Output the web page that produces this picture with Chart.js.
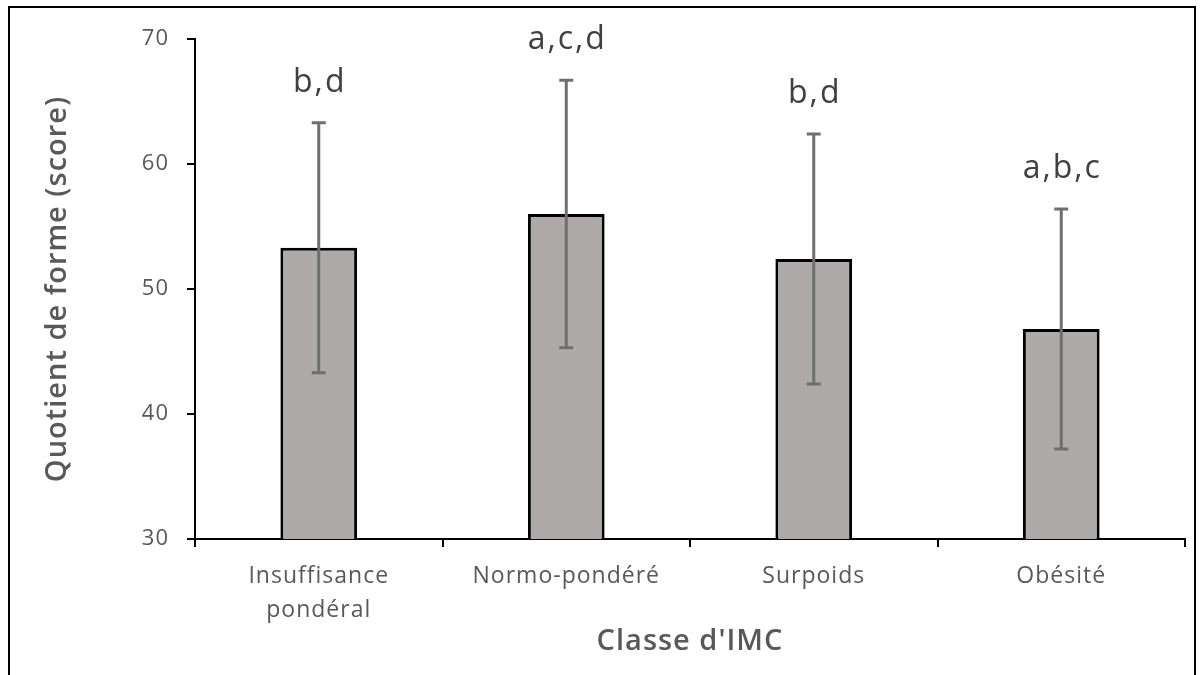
<!DOCTYPE html>
<html>
<head>
<meta charset="utf-8">
<script src="https://cdn.jsdelivr.net/npm/chart.js@4"></script>
<style>
  html, body { margin: 0; padding: 0; background: #fff; }
  #wrap { position: relative; width: 1203px; height: 675px; overflow: hidden; }
  #frame { position: absolute; left: 8px; top: 6px; width: 1184px; height: 700px; border: 2px solid #000; }
  canvas { position: absolute; left: 0; top: 0; }
</style>
</head>
<body>
<div id="wrap">
  <div id="frame"></div>
  <canvas id="myChart" width="1203" height="675"></canvas>
</div>
<script>
  /* ---------------------------------------------------
    data
  ----------------------------------------------------- */
  const categories = [["Insuffisance", "pondéral"], "Normo-pondéré", "Surpoids", "Obésité"];
  const meanScore = [53.3, 56.0, 52.4, 46.8];
  const sdScore = [10.0, 10.7, 10.0, 9.6];
  const letters = ["b,d", "a,c,d", "b,d", "a,b,c"];
  const yTicks = [30, 40, 50, 60, 70];

  /* ---------------------------------------------------
    a bit wider text spacing (like the original office font)
  ----------------------------------------------------- */
  const spacing = {
    id: "spacing",
    beforeDraw(chart) { chart.ctx.letterSpacing = "1px"; }
  };

  /* ---------------------------------------------------
    error bars + letters
  ----------------------------------------------------- */
  const errorBars = {
    id: "errorBars",
    afterDatasetsDraw(chart) {
      const c = chart.ctx;
      const y = chart.scales.y;
      const meta = chart.getDatasetMeta(0);
      c.save();
      meta.data.forEach((bar, i) => {
        const x = bar.x;
        const top = y.getPixelForValue(meanScore[i] + sdScore[i]);
        const bot = y.getPixelForValue(meanScore[i] - sdScore[i]);
        c.strokeStyle = "#6f6f6f";
        c.lineWidth = 3;
        c.beginPath();
        c.moveTo(x, top); c.lineTo(x, bot);
        c.moveTo(x - 7, top); c.lineTo(x + 7, top);
        c.moveTo(x - 7, bot); c.lineTo(x + 7, bot);
        c.stroke();
        c.fillStyle = "#404040";
        c.font = "32px 'Open Sans'";
        c.letterSpacing = "2px";
        c.textAlign = "center";
        c.textBaseline = "middle";
        c.fillText(letters[i], x + 1, top - 40);
      });
      c.restore();
    }
  };

  const ctx = document.getElementById("myChart");

  new Chart(ctx, {
    type: "bar",
    data: {
      labels: categories,
      datasets: [
        {
          data: meanScore,
          backgroundColor: "#aeaaaa",
          borderColor: "#000",
          borderWidth: 3,
          borderSkipped: "bottom",
          barPercentage: 0.31,
          categoryPercentage: 1,
        },
      ],
    },
    options: {
      responsive: false,
      animation: false,
      layout: { padding: { top: 39, right: 18, left: 0, bottom: 16 } },
      plugins: {
        legend: { display: false },
        tooltip: { enabled: false },
      },
      scales: {
        x: {
          border: { color: "#000", width: 2 },
          grid: { display: true, drawOnChartArea: false, color: "#000", lineWidth: 2, tickLength: 8, offset: true },
          ticks: { color: "#595959", font: { family: "Open Sans", size: 23, lineHeight: 1.45 }, padding: 13 },
          title: {
            display: true,
            text: "Classe d'IMC",
            color: "#595959",
            font: { family: "Open Sans", size: 29, weight: "600" },
            padding: { top: 8, bottom: 0 },
          },
          afterFit(scale) { scale.height = 120; },
        },
        y: {
          min: 30,
          max: 70,
          afterBuildTicks(scale) { scale.ticks = yTicks.map(v => ({ value: v })); },
          border: { color: "#000", width: 2 },
          grid: { display: true, drawOnChartArea: false, color: "#000", lineWidth: 2, tickLength: 8 },
          ticks: { color: "#595959", font: { family: "Open Sans", size: 22 }, padding: 18 },
          title: {
            display: true,
            text: "Quotient de forme (score)",
            color: "#595959",
            font: { family: "Open Sans", size: 29, weight: "600" },
            padding: { top: 40, bottom: 0 },
          },
          afterFit(scale) { scale.width = 195; },
        },
      },
    },
    plugins: [spacing, errorBars],
  });
</script>
</body>
</html>
